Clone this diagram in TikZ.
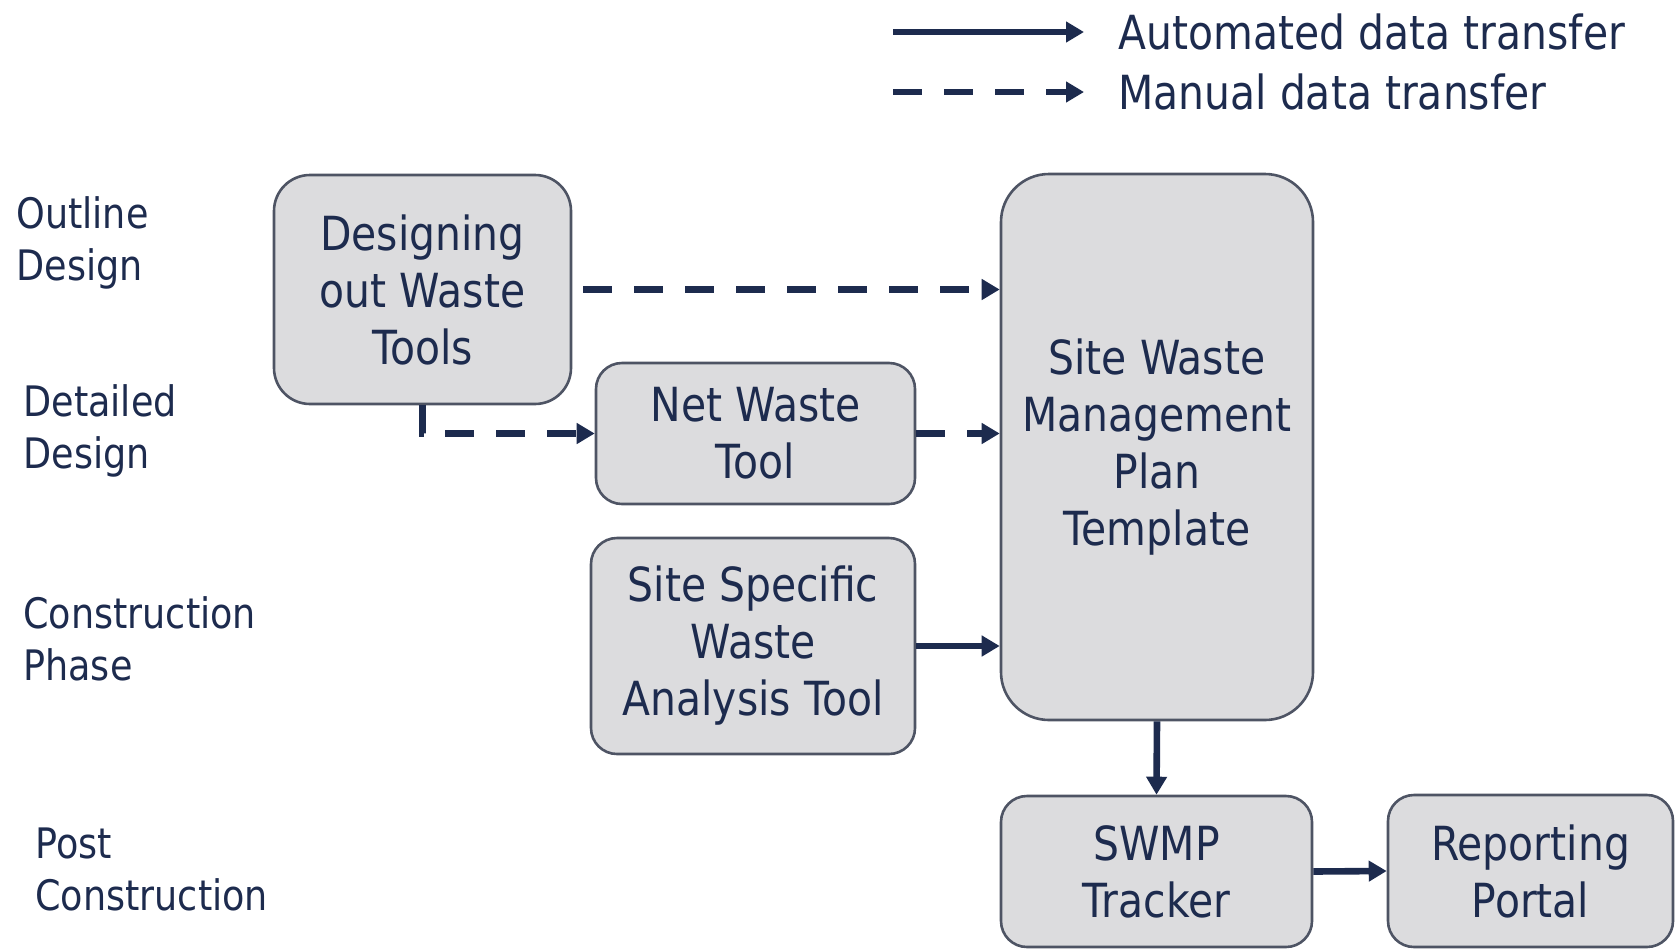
\documentclass[tikz,border=0pt]{standalone}
\usepackage{fontspec}
\setmainfont{DejaVu Sans}[FakeStretch=0.87]
\usetikzlibrary{arrows.meta}
\definecolor{navy}{RGB}{29,43,78}
\definecolor{boxgray}{RGB}{220,220,222}
\definecolor{edge}{RGB}{78,84,100}

\begin{document}
\begin{tikzpicture}[x=0.5pt,y=-0.5pt,
    tool/.style={draw=edge, line width=1.3pt, fill=boxgray, rounded corners=13pt,
      align=center, text=navy, inner sep=0pt, font=\fontsize{23.5}{28.5}\selectfont},
    phase/.style={anchor=west, align=left, text=navy, inner sep=0pt,
      font=\fontsize{21}{26}\selectfont},
    key/.style={anchor=west, text=navy, inner sep=0pt, font=\fontsize{23.5}{28.5}\selectfont},
    auto/.style={navy, line width=3.3pt, -{Triangle[length=9pt,width=10pt]}},
    manual/.style={auto, dash pattern=on 14.5pt off 11pt}]
      \useasboundingbox (0,0) rectangle (1675,948);
      % legend
      \coordinate (a1) at (893,32);
      \coordinate (a2) at (1084,32);
      \coordinate (m1) at (893,92);
      \coordinate (m2) at (1084,92);
      \node (autokey) at (1118,32) [key] {Automated data transfer};
      \node (mankey) at (1118,92) [key] {Manual data transfer};
      \draw[auto] (a1) -- (a2);
      \draw[manual] (m1) -- (m2);
      % phases
      \node (outline) at (16,243)  [phase] {Outline\\Design};
      \node (detail) at (23,431)  [phase] {Detailed\\Design};
      \node (constr) at (23,639)  [phase] {Construction\\Phase};
      \node (post) at (35,869)  [phase] {Post\\Construction};
      % tools
      \node (dow) at (422.5,289.5)  [tool, rounded corners=18pt, minimum width=148.5pt, minimum height=114.5pt] {Designing\\out Waste\\Tools};
      \node (net) at (755.5,433.5)  [tool, minimum width=159.5pt, minimum height=70.5pt] {Net Waste\\Tool};
      \node (ssw) at (753,646)  [tool, minimum width=162pt, minimum height=108pt] {Site Specific\\Waste\\Analysis Tool};
      \node (swmp) at (1157,447)  [tool, rounded corners=24pt, minimum width=156pt, minimum height=273pt] {Site Waste\\Management\\Plan\\Template};
      \node (track) at (1156.5,871.5)  [tool, minimum width=155.5pt, minimum height=75.5pt] {SWMP\\Tracker};
      \node (portal) at (1530.5,871)  [tool, minimum width=142.5pt, minimum height=76pt] {Reporting\\Portal};
      \draw[manual]
      ([xshift=5.5pt]dow.east) -- (dow.east -| swmp.west);
      \draw[manual] (dow.south) |- (net.west);
      \draw[manual] (net.east) -- (net.east -| swmp.west);
      \draw[auto] (ssw.east) -- (ssw.east -| swmp.west);
      \draw[auto] (swmp.south) -- (track.north);
      \draw[auto] (track.east) -- (portal.west);
    \end{tikzpicture}
\end{document}
